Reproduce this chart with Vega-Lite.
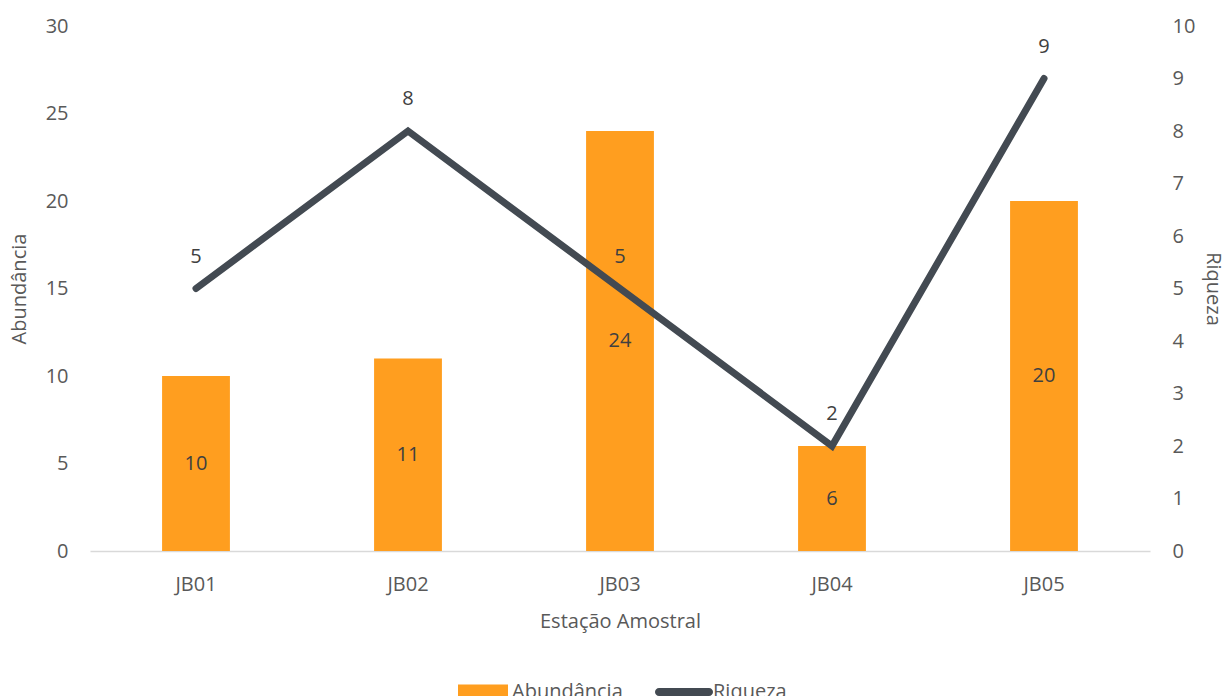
{
  "$schema": "https://vega.github.io/schema/vega-lite/v6.json",
  "width": 1060,
  "height": 525,
  "autosize": "none",
  "padding": {"left": 90, "top": 26, "right": 79, "bottom": 145},
  "background": "white",
  "config": {
    "font": "Open Sans",
    "view": {"stroke": null},
    "axis": {"labelFont": "Open Sans", "titleFont": "Open Sans", "labelFontSize": 20, "titleFontSize": 20, "labelColor": "#595959", "titleColor": "#595959", "titleFontWeight": "normal", "ticks": false, "grid": false, "domain": false}
  },
  "data": {"values": [
    {"estacao": "JB01", "abundancia": 10, "riqueza": 5},
    {"estacao": "JB02", "abundancia": 11, "riqueza": 8},
    {"estacao": "JB03", "abundancia": 24, "riqueza": 5},
    {"estacao": "JB04", "abundancia": 6, "riqueza": 2},
    {"estacao": "JB05", "abundancia": 20, "riqueza": 9}
  ]},
  "encoding": {
    "x": {"field": "estacao", "type": "nominal", "title": "Estação Amostral",
      "scale": {"paddingInner": 0.68, "paddingOuter": 0.34},
      "axis": {"labelAngle": 0, "domain": true, "domainColor": "#d9d9d9", "domainWidth": 1.5, "labelPadding": 23, "titlePadding": 17}}
  },
  "layer": [
    {
      "mark": {"type": "bar", "color": "#FF9E1F"},
      "encoding": {
        "y": {"field": "abundancia", "type": "quantitative", "title": "Abundância",
          "scale": {"domain": [0, 30]},
          "axis": {"values": [0, 5, 10, 15, 20, 25, 30], "labelPadding": 22, "titlePadding": 16}},
        "color": {"datum": "Abundância", "type": "nominal",
          "scale": {"domain": ["Abundância", "Riqueza"], "range": ["#FF9E1F", "#434A52"]},
          "legend": {"title": null, "orient": "none", "direction": "horizontal", "legendX": 368, "legendY": 641,
            "symbolSize": 2500, "labelFontSize": 20, "labelColor": "#595959", "labelFont": "Open Sans", "labelOffset": 4, "columnPadding": 32,
            "encode": {"symbols": {"update": {
              "shape": {"signal": "datum.value === 'Riqueza' ? 'M-1.0,-0.16L1.0,-0.16A0.16,0.16 0 0 1 1.0,0.16L-1.0,0.16A0.16,0.16 0 0 1 -1.0,-0.16Z' : 'M-1,-0.3L1,-0.3L1,0.3L-1,0.3Z'"},
              "fill": {"signal": "datum.value === 'Riqueza' ? '#434A52' : '#FF9E1F'"},
              "strokeWidth": {"value": 0},
              "opacity": {"value": 1}
            }}}}
        }
      }
    },
    {
      "mark": {"type": "text", "fontSize": 20, "color": "#404040", "font": "Open Sans", "baseline": "middle"},
      "encoding": {
        "y": {"field": "abundancia", "type": "quantitative", "scale": {"domain": [0, 60]}, "axis": null},
        "text": {"field": "abundancia", "type": "quantitative"}
      }
    },
    {
      "mark": {"type": "line", "strokeWidth": 7, "strokeCap": "round", "strokeJoin": "miter"},
      "encoding": {
        "y": {"field": "riqueza", "type": "quantitative", "title": "Riqueza",
          "scale": {"domain": [0, 10]},
          "axis": {"orient": "right", "values": [0, 1, 2, 3, 4, 5, 6, 7, 8, 9, 10], "labelPadding": 22, "titlePadding": 8}},
        "color": {"datum": "Riqueza", "type": "nominal"}
      }
    },
    {
      "mark": {"type": "text", "fontSize": 20, "color": "#404040", "font": "Open Sans", "baseline": "middle", "dy": -32},
      "encoding": {
        "y": {"field": "riqueza", "type": "quantitative", "scale": {"domain": [0, 10]}, "axis": null},
        "text": {"field": "riqueza", "type": "quantitative"}
      }
    }
  ],
  "resolve": {"scale": {"y": "independent"}}
}
